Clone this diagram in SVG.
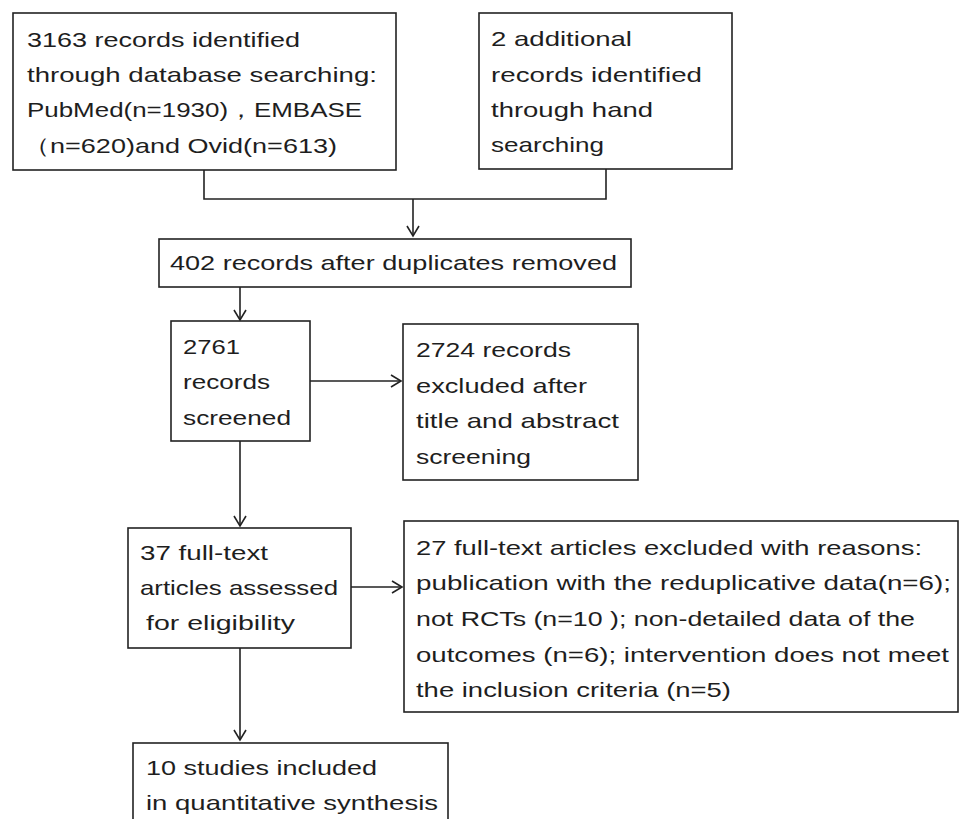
<svg xmlns="http://www.w3.org/2000/svg" width="964" height="819" viewBox="0 0 964 819">
<style>
.box{fill:#fff;stroke:#222;stroke-width:1.6}
.t{font-family:"Liberation Sans","Open Sans",Arial,sans-serif;font-size:21px;fill:#1e1e1e}
.c{fill:none;stroke:#222;stroke-width:1.6}
</style>
<defs>
<marker id="arr" markerWidth="14" markerHeight="14" refX="11" refY="7" orient="auto" markerUnits="userSpaceOnUse">
<path d="M1,1 L11,7 L1,13" fill="none" stroke="#222" stroke-width="1.6"/>
</marker>
</defs>
<rect width="964" height="819" fill="#fff"/>
<g id="connectors">
<polyline class="c" points="204,170 204,199 606,199 606,169"/>
<line class="c" x1="413" y1="199" x2="413" y2="236" marker-end="url(#arr)"/>
<line class="c" x1="240" y1="287" x2="240" y2="320" marker-end="url(#arr)"/>
<line class="c" x1="310" y1="381" x2="401" y2="381" marker-end="url(#arr)"/>
<line class="c" x1="240" y1="441" x2="240" y2="526" marker-end="url(#arr)"/>
<line class="c" x1="351" y1="587" x2="402" y2="587" marker-end="url(#arr)"/>
<line class="c" x1="240" y1="648" x2="240" y2="740" marker-end="url(#arr)"/>
</g>
<g id="n1">
<rect class="box" x="13" y="13" width="383" height="157"/>
<text class="t"><tspan x="27" y="47" textLength="273" lengthAdjust="spacingAndGlyphs">3163 records identified</tspan><tspan x="27" y="82" textLength="350" lengthAdjust="spacingAndGlyphs">through database searching:</tspan><tspan x="27" y="117" textLength="335" lengthAdjust="spacingAndGlyphs">PubMed(n=1930)，EMBASE</tspan><tspan x="23" y="153" textLength="314" lengthAdjust="spacingAndGlyphs">（n=620)and Ovid(n=613)</tspan></text>
</g>
<g id="n2">
<rect class="box" x="479" y="13" width="253" height="156"/>
<text class="t"><tspan x="491" y="46" textLength="141" lengthAdjust="spacingAndGlyphs">2 additional</tspan><tspan x="491" y="82" textLength="211" lengthAdjust="spacingAndGlyphs">records identified</tspan><tspan x="491" y="117" textLength="162" lengthAdjust="spacingAndGlyphs">through hand</tspan><tspan x="491" y="152" textLength="113" lengthAdjust="spacingAndGlyphs">searching</tspan></text>
</g>
<g id="n3">
<rect class="box" x="159" y="239" width="472" height="48"/>
<text class="t" x="170" y="270" textLength="447" lengthAdjust="spacingAndGlyphs">402 records after duplicates removed</text>
</g>
<g id="n4">
<rect class="box" x="171" y="321" width="139" height="120"/>
<text class="t"><tspan x="183" y="354" textLength="57" lengthAdjust="spacingAndGlyphs">2761</tspan><tspan x="183" y="389" textLength="87" lengthAdjust="spacingAndGlyphs">records</tspan><tspan x="183" y="425" textLength="108" lengthAdjust="spacingAndGlyphs">screened</tspan></text>
</g>
<g id="n5">
<rect class="box" x="403" y="324" width="235" height="156"/>
<text class="t"><tspan x="416" y="357" textLength="155" lengthAdjust="spacingAndGlyphs">2724 records</tspan><tspan x="416" y="393" textLength="171" lengthAdjust="spacingAndGlyphs">excluded after</tspan><tspan x="416" y="428" textLength="203" lengthAdjust="spacingAndGlyphs">title and abstract</tspan><tspan x="416" y="464" textLength="115" lengthAdjust="spacingAndGlyphs">screening</tspan></text>
</g>
<g id="n6">
<rect class="box" x="128" y="528" width="223" height="120"/>
<text class="t"><tspan x="140" y="560" textLength="128" lengthAdjust="spacingAndGlyphs">37 full-text</tspan><tspan x="140" y="595" textLength="198" lengthAdjust="spacingAndGlyphs">articles assessed</tspan><tspan x="146" y="630" textLength="149" lengthAdjust="spacingAndGlyphs">for eligibility</tspan></text>
</g>
<g id="n7">
<rect class="box" x="404" y="521" width="554" height="191"/>
<text class="t"><tspan x="416" y="555" textLength="506" lengthAdjust="spacingAndGlyphs">27 full-text articles excluded with reasons:</tspan><tspan x="416" y="590" textLength="535" lengthAdjust="spacingAndGlyphs">publication with the reduplicative data(n=6);</tspan><tspan x="416" y="626" textLength="499" lengthAdjust="spacingAndGlyphs">not RCTs (n=10 ); non-detailed data of the</tspan><tspan x="416" y="662" textLength="533" lengthAdjust="spacingAndGlyphs">outcomes (n=6); intervention does not meet</tspan><tspan x="416" y="697" textLength="315" lengthAdjust="spacingAndGlyphs">the inclusion criteria (n=5)</tspan></text>
</g>
<g id="n8">
<rect class="box" x="133" y="743" width="315" height="90"/>
<text class="t"><tspan x="146" y="775" textLength="231" lengthAdjust="spacingAndGlyphs">10 studies included</tspan><tspan x="146" y="810" textLength="292" lengthAdjust="spacingAndGlyphs">in quantitative synthesis</tspan></text>
</g>
</svg>
